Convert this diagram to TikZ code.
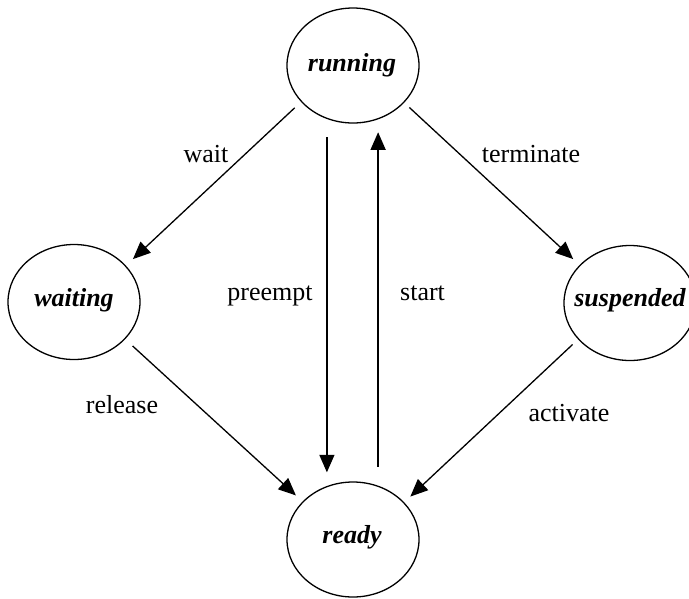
\documentclass[tikz,border=0pt]{standalone}
\usepackage{fontspec}
\setmainfont{Liberation Serif}
\usetikzlibrary{shapes.geometric,arrows.meta}
\begin{document}
\begin{tikzpicture}[x=1pt,y=-1pt,
  state/.style={draw, ellipse, line width=1.3pt, minimum width=132pt, minimum height=115pt, inner sep=0pt},
  statetext/.style={font=\fontsize{26}{30}\selectfont\bfseries\itshape, anchor=base, inner sep=0pt},
  lbl/.style={font=\fontsize{26}{30}\selectfont, anchor=base, inner sep=0pt},
  arr/.style={line width=1.3pt, -{Triangle[length=17.5pt,width=15pt]}}]
\useasboundingbox (0,0) rectangle (689,598);
\node[state] (running) at (353,65.5) {};
\node[state] (waiting) at (74,302) {};
\node[state] (suspended) at (630,303) {};
\node[state] (ready) at (353,539.5) {};
\node[statetext] (running-t) at (352,71) {running};
\node[statetext] (waiting-t) at (74,306) {waiting};
\node[statetext] (suspended-t) at (630,306) {suspended};
\node[statetext] (ready-t) at (352,543) {ready};
\draw[arr, shorten <=8.6pt, shorten >=9.5pt] (running.215.6) -- (waiting.35.4);
\draw[arr, shorten <=7pt, shorten >=8.7pt] (running.-36.5) -- (suspended.143);
\draw[arr, shorten <=10pt, shorten >=9pt] (waiting.-36) -- (ready.143.8);
\draw[arr, shorten <=7.5pt, shorten >=8.4pt] (suspended.215.7) -- (ready.36.7);
\draw[arr, shorten <=18.3pt, shorten >=13.3pt] (running.244.8) -- (running.244.8 |- ready.115.2);
\draw[arr, shorten <=18.9pt, shorten >=12.9pt] (ready.65.9) -- (ready.65.9 |- running.-65.9);
\node[lbl] (l-wait) at (206,162) {wait};
\node[lbl] (l-term) at (531,162) {terminate};
\node[lbl] (l-pre) at (270,300) {preempt};
\node[lbl, anchor=base west] (l-start) at (400,300) {start};
\node[lbl] (l-rel) at (122,413) {release};
\node[lbl] (l-act) at (569,421) {activate};
\end{tikzpicture}
\end{document}
